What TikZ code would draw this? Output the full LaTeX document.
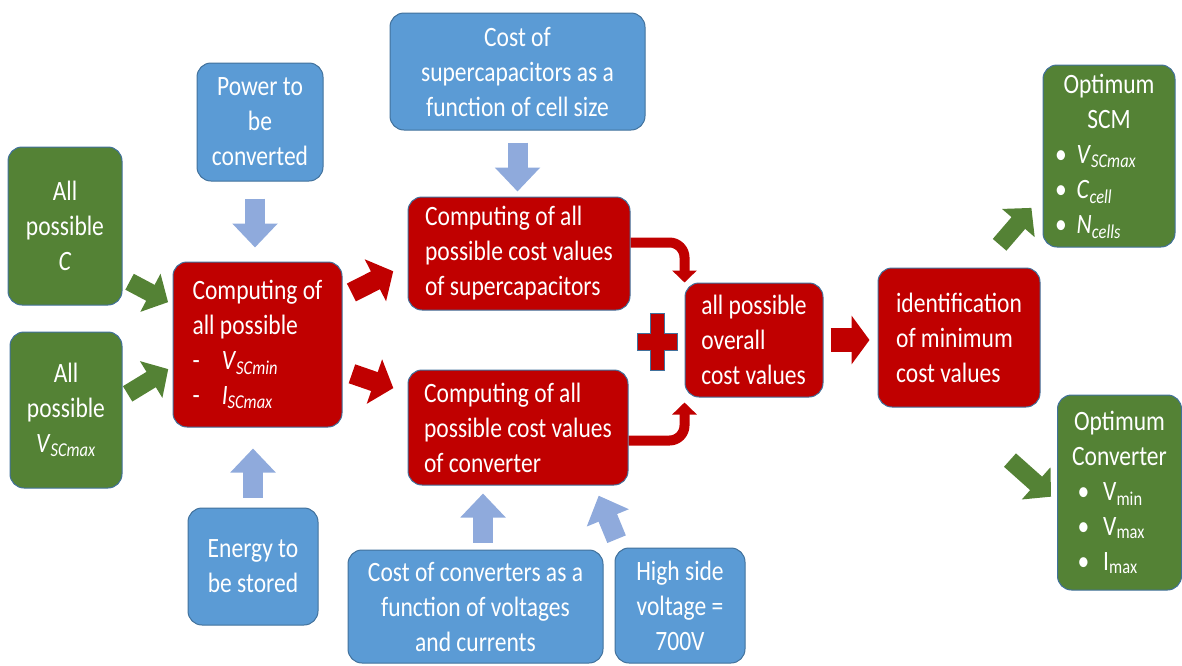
\documentclass[tikz,border=0pt]{standalone}
\usepackage{fontspec}
\setmainfont{Carlito}[FakeStretch=0.84]
\usepackage{tikz}
\usetikzlibrary{arrows.meta}
\definecolor{boxgreen}{HTML}{548235}
\definecolor{boxred}{HTML}{C00000}
\definecolor{boxblue}{HTML}{5B9BD5}
\definecolor{arrowblue}{HTML}{8FAADC}
\definecolor{edgeblue}{HTML}{41719C}
\newcommand{\itemline}[2]{\makebox[#1][l]{\textbullet\hspace{10pt}#2}}

\begin{document}
\begin{tikzpicture}
    [every node/.style={inner sep=0pt},
     box/.style={rounded corners=14pt, draw=edgeblue, line width=1pt, text=white, font=\fontsize{28}{35}\selectfont},
     greenbox/.style={box, fill=boxgreen, align=center},
     bluebox/.style={box, fill=boxblue, align=center},
     redbox/.style={box, fill=boxred, align=left},
     bluearrow/.style={draw=arrowblue, line width=20pt, -{Triangle[length=24pt, width=44pt]}},
     greenarrow/.style={draw=boxgreen, line width=18pt, -{Triangle[length=20pt, width=42pt]}},
     redarrow/.style={draw=boxred, line width=20pt, -{Triangle[length=20pt, width=46pt]}},
     redbend/.style={draw=boxred, line width=10pt, rounded corners=15pt, -{Triangle[length=12pt, width=24pt]}}]
        \useasboundingbox (0pt, 0pt) rectangle (1182pt, -665pt);
        \node (allc) [greenbox, minimum width=114pt, minimum height=158pt] at (65pt, -226pt) {All\\possible\\\textit{C}};
        \node (allv) [greenbox, minimum width=112pt, minimum height=156pt] at (66pt, -410pt) {All\\possible\\\textit{V}\textsubscript{\textit{SCmax}}};
        \node (power) [bluebox, minimum width=126pt, minimum height=118pt] at (260pt, -122pt) {Power to\\be\\converted};
        \node (energy) [bluebox, minimum width=130pt, minimum height=117pt] at (253pt, -566.5pt) {Energy to\\be stored};
        \node (comp) [redbox, minimum width=169pt, minimum height=165pt] at (257.5pt, -344.5pt) {Computing of\\all possible\\-\hspace{22pt}\textit{V}\textsubscript{\textit{SCmin}}\\-\hspace{22pt}\textit{I}\textsubscript{\textit{SCmax}}};
        \node (sccost) [bluebox, minimum width=255pt, minimum height=117pt] at (517.5pt, -71.5pt) {Cost of\\supercapacitors as a\\function of cell size};
        \node (scval) [redbox, minimum width=222pt, minimum height=113pt] at (519pt, -253.5pt) {Computing of all\\possible cost values\\of supercapacitors};
        \node (cnval) [redbox, minimum width=220pt, minimum height=115pt] at (518pt, -427.5pt) {Computing of all\\possible cost values\\of converter};
        \node (cncost) [bluebox, minimum width=255pt, minimum height=113pt] at (475.5pt, -606.5pt) {Cost of converters as a\\function of voltages\\and currents};
        \node (hside) [bluebox, minimum width=130pt, minimum height=115pt] at (680pt, -605.5pt) {High side\\voltage =\\700V};
        \node (overall) [redbox, minimum width=138pt, minimum height=114pt] at (754pt, -340pt) {all possible\\overall\\cost values};
        \node (minid) [redbox, minimum width=162pt, minimum height=139pt] at (959pt, -337.5pt) {identification\\of minimum\\cost values};
        \node (optscm) [greenbox, minimum width=132pt, minimum height=182pt] at (1109pt, -156pt) {Optimum\\SCM\\\itemline{108pt}{\textit{V}\textsubscript{\textit{SCmax}}}\\\itemline{108pt}{\textit{C}\textsubscript{\textit{cell}}}\\\itemline{108pt}{\textit{N}\textsubscript{\textit{cells}}}};
        \node (optcon) [greenbox, minimum width=124pt, minimum height=195pt] at (1119.5pt, -492.5pt) {Optimum\\Converter\\\itemline{84pt}{\hspace{4pt}V\textsubscript{min}}\\\itemline{84pt}{\hspace{4pt}V\textsubscript{max}}\\\itemline{84pt}{\hspace{4pt}I\textsubscript{max}}};
        \draw [greenarrow, shorten <=8pt, shorten >=5pt] ([yshift=-52pt]allc.east) -- ([yshift=40pt]comp.west);
        \draw [greenarrow, shorten <=6pt, shorten >=5pt] ([yshift=13pt]allv.east) -- ([yshift=-22pt]comp.west);
        \draw [bluearrow, shorten <=17pt, shorten >=14pt] ([xshift=-5pt]power.south) -- ([xshift=-5pt]power.south |- comp.north);
        \draw [bluearrow, shorten <=10pt, shorten >=21pt] (energy.north) -- (energy.north |- comp.south);
        \draw [bluearrow, shorten <=12pt, shorten >=5pt] (sccost.south) -- (sccost.south |- scval.north);
        \draw [bluearrow, shorten <=7pt, shorten >=8pt] ([xshift=7.5pt]cncost.north) -- ([xshift=7.5pt]cncost.north |- cnval.south);
        \draw [bluearrow, shorten <=9pt, shorten >=11pt] ([xshift=-60pt]hside.north) -- ([xshift=-34pt]cnval.south east);
        \draw [redarrow, shorten <=10pt, shorten >=16pt] ([yshift=47.5pt]comp.east) -- ([yshift=-10.5pt]scval.west);
        \draw [redarrow, shorten <=10pt, shorten >=15pt] ([yshift=-26pt]comp.east) -- ([yshift=34.5pt]cnval.west);
        \draw [redbend] ([yshift=11pt]scval.east) -| (overall.north west);
        \draw [redbend, shorten >=5pt] ([yshift=-13pt]cnval.east) -| (overall.south west);
        \draw [redarrow, line width=24pt, -{Triangle[length=18pt, width=48pt]}, shorten <=7pt, shorten >=8pt] (overall.east) -- (overall.east -| minid.west);
        \draw [greenarrow, shorten <=30pt, shorten >=17pt] ([xshift=21pt]minid.north) -- ([yshift=-39pt]optscm.west);
        \draw [greenarrow, shorten <=79pt, shorten >=8pt] ([xshift=-8pt]minid.south) -- ([yshift=-9.5pt]optcon.west);
        % plus sign between the two cost branches
        \draw [fill=boxred, draw=edgeblue, line width=0.8pt] (650pt, -313pt) -- (664pt, -313pt) -- (664pt, -333pt) -- (677pt, -333pt) -- (677pt, -350pt) -- (664pt, -350pt) -- (664pt, -370pt) -- (650pt, -370pt) -- (650pt, -350pt) -- (637pt, -350pt) -- (637pt, -333pt) -- (650pt, -333pt) -- cycle;
    \end{tikzpicture}
\end{document}
